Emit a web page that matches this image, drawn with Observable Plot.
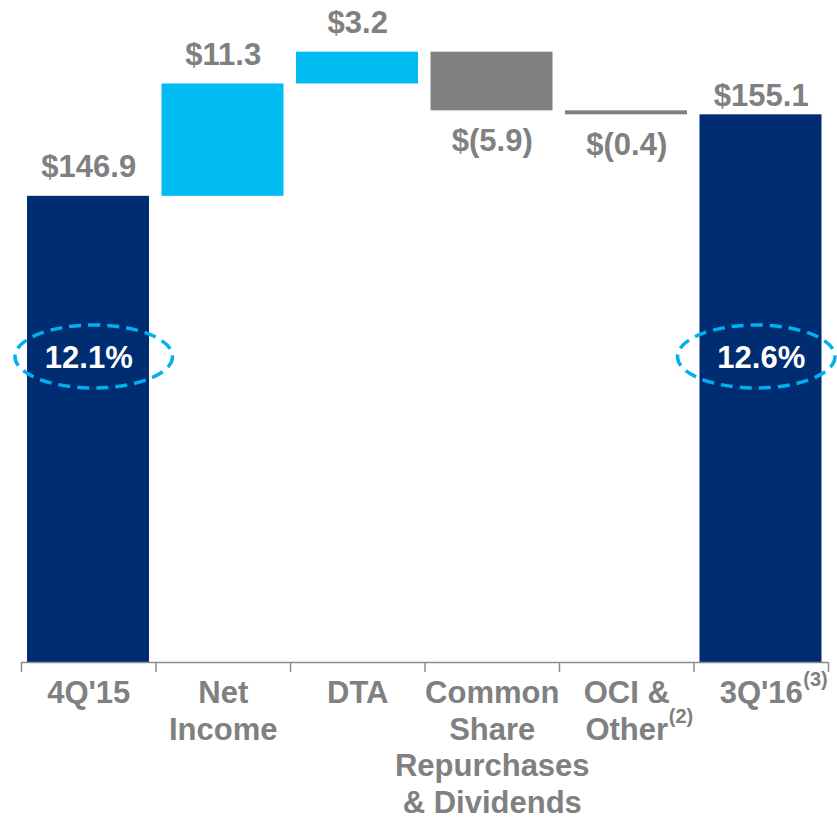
<!DOCTYPE html>
<html>
<head>
<meta charset="utf-8">
<script src="https://cdn.jsdelivr.net/npm/d3@7"></script>
<script src="https://cdn.jsdelivr.net/npm/@observablehq/plot@0.6"></script>
<style>
  html, body { margin: 0; padding: 0; background: #ffffff; }
  #chart { width: 837px; height: 819px; }
  svg { font-family: "Liberation Sans", Arial, sans-serif; }
</style>
</head>
<body>
<div id="chart"></div>
<script>
// ---- Data ----
const categories = ["4Q'15", "Net\nIncome", "DTA", "Common\nShare\nRepurchases\n& Dividends", "OCI &\nOther", "3Q'16"];
const superscripts = ["", "", "", "", "(2)", "(3)"];
const values = [146.9, 11.3, 3.2, -5.9, -0.4, 155.1];
const kinds = ["total", "increase", "increase", "decrease", "decrease", "total"];
const valueLabels = ["$146.9", "$11.3", "$3.2", "$(5.9)", "$(0.4)", "$155.1"];
const ratioLabels = ["12.1%", "", "", "", "", "12.6%"];
const yDomain = [100, 166.6];

// ---- Build waterfall table ----
let cum = 0;
const rows = categories.map((c, i) => {
  const v = values[i];
  let y1, y2;
  if (kinds[i] === "total") { y1 = yDomain[0]; y2 = v; cum = v; }
  else { y1 = cum; y2 = cum + v; cum += v; }
  return {i, c, v, kind: kinds[i], y1, y2, top: Math.max(y1, y2), bottom: Math.min(y1, y2),
          label: valueLabels[i], sup: superscripts[i], ratio: ratioLabels[i]};
});

const colors = {total: "#002D72", increase: "#00BCF2", decrease: "#808080"};
const textGray = "#808080";

// custom ellipse symbol
const ellipse = {
  draw(ctx, size) {
    const ry = Math.sqrt(size / Math.PI);
    const rx = ry * 2.5;
    const k = 0.5523;
    ctx.moveTo(rx, 0);
    ctx.bezierCurveTo(rx, k * ry, k * rx, ry, 0, ry);
    ctx.bezierCurveTo(-k * rx, ry, -rx, k * ry, -rx, 0);
    ctx.bezierCurveTo(-rx, -k * ry, -k * rx, -ry, 0, -ry);
    ctx.bezierCurveTo(k * rx, -ry, rx, -k * ry, rx, 0);
    ctx.closePath();
  }
};

const n = categories.length;
const ellipseStyle = {
  frameAnchor: "middle", dy: 25, r: 31.5, symbol: ellipse, fill: "none",
  stroke: "#00B0F0", strokeWidth: 3.5, strokeDasharray: "12,7"
};
const plot = Plot.plot({
  width: 837,
  height: 819,
  marginLeft: 21,
  marginRight: 9,
  marginTop: 0,
  marginBottom: 157,
  x: {type: "linear", domain: [0, n], axis: null},
  y: {domain: yDomain, axis: null},
  style: {fontFamily: "'Liberation Sans', Arial, sans-serif", background: "#fff"},
  marks: [
    Plot.rect(rows, {
      x1: d => d.i, x2: d => d.i + 1, y1: "y1", y2: "y2",
      insetLeft: 6, insetRight: 6.5,
      fill: d => colors[d.kind]
    }),
    // axis line and boundary ticks
    Plot.ruleY([yDomain[0]], {stroke: "#8c8c8c", strokeWidth: 1.5}),
    Plot.axisX({
      ticks: d3.range(0, n + 1), tickSize: 10, tickFormat: () => "",
      stroke: "#8c8c8c", strokeWidth: 1.5, anchor: "bottom"
    }),
    // category labels
    Plot.text(rows, {
      x: d => d.i + 0.5, text: "c", frameAnchor: "bottom", lineAnchor: "top",
      dy: 14, lineHeight: 1.19, fontSize: 31, fontWeight: "bold", fill: textGray
    }),
    // superscripts
    Plot.text(rows.filter(d => d.sup && d.c.split("\n").length === 1), {
      x: d => d.i + 0.5, text: "sup", frameAnchor: "bottom", lineAnchor: "top",
      textAnchor: "start", dx: 42, dy: 9, fontSize: 20, fontWeight: "bold", fill: textGray
    }),
    Plot.text(rows.filter(d => d.sup && d.c.split("\n").length === 2), {
      x: d => d.i + 0.5, text: "sup", frameAnchor: "bottom", lineAnchor: "top",
      textAnchor: "start", dx: 42, dy: 46, fontSize: 20, fontWeight: "bold", fill: textGray
    }),
    // value labels
    Plot.text(rows.filter(d => d.v > 0 && d.i < n - 1), {
      x: d => d.i + 0.5, y: "top", text: "label", dy: -29,
      fontSize: 31, fontWeight: "bold", fill: textGray
    }),
    Plot.text(rows.filter(d => d.v > 0 && d.i === n - 1), {
      x: d => d.i + 0.5, y: "top", text: "label", dy: -19,
      fontSize: 31, fontWeight: "bold", fill: textGray
    }),
    Plot.text(rows.filter(d => d.v < 0), {
      x: d => d.i + 0.5, y: "bottom", text: "label", dy: 30,
      fontSize: 31, fontWeight: "bold", fill: textGray
    }),
    // ratio ellipses and labels
    Plot.dot(rows.filter(d => d.ratio && d.i === 0), {
      x: d => d.i + 0.5, dx: 5, ...ellipseStyle
    }),
    Plot.dot(rows.filter(d => d.ratio && d.i === n - 1), {
      x: d => d.i + 0.5, dx: -5, ...ellipseStyle
    }),
    Plot.text(rows.filter(d => d.ratio), {
      x: d => d.i + 0.5, text: "ratio", frameAnchor: "middle", dy: 27,
      fontSize: 31, fontWeight: "bold", fill: "#ffffff"
    })
  ]
});
document.getElementById("chart").append(plot);
</script>
</body>
</html>
